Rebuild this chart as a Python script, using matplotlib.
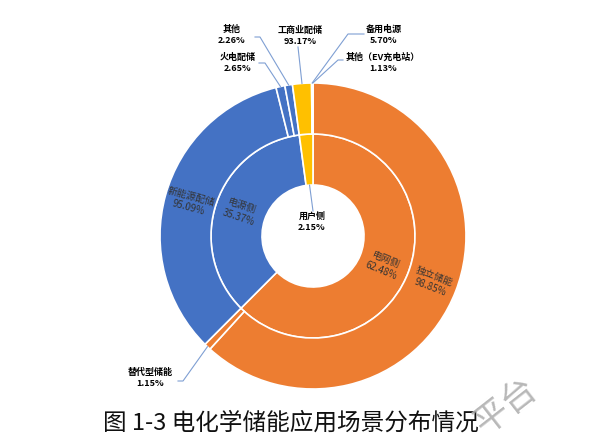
import numpy as np
import matplotlib
matplotlib.use("Agg")
import matplotlib.pyplot as plt

plt.rcParams['font.family'] = ['Noto Sans CJK SC', 'DejaVu Sans']

# inner ring: share by side (%)
sides = ["电网侧", "电源侧", "用户侧"]
side_share = [62.48, 35.37, 2.15]

# outer ring: share inside each side (%)
grid_names = ["独立储能", "替代型储能"]
grid_share = [98.85, 1.15]
source_names = ["新能源配储", "火电配储", "其他"]
source_share = [95.09, 2.65, 2.26]
user_names = ["工商业配储", "备用电源", "其他（EV充电站）"]
user_share = [93.17, 5.70, 1.13]

caption = "图 1-3 电化学储能应用场景分布情况"

colors = ["#ED7D31", "#4472C4", "#FFC000"]
line_col = "#7f9fd3"
W, H = 610, 444


def px(x, y):
    # picture pixel -> data coords (y up)
    return x, H - y


fig = plt.figure(figsize=(W / 100, H / 100), dpi=100)
ax = fig.add_axes([0, 0, 1, 1])

cx, cy = px(313, 236)
r_out, r_mid, r_in = 153, 102, 51

inner_w, _ = ax.pie(side_share, radius=r_mid, center=(cx, cy), startangle=90,
                    counterclock=False, colors=colors,
                    wedgeprops=dict(width=r_mid - r_in, edgecolor="white", linewidth=1.2))

groups = [grid_share, source_share, user_share]
outer_vals, outer_cols, outer_names = [], [], []
for tot, sub, names, c in zip(side_share, groups, [grid_names, source_names, user_names], colors):
    for v, n in zip(sub, names):
        outer_vals.append(tot * v / 100)
        outer_cols.append(c)
        outer_names.append((n, v))

outer_w, _ = ax.pie(outer_vals, radius=r_out, center=(cx, cy), startangle=90,
                    counterclock=False, colors=outer_cols,
                    wedgeprops=dict(width=r_out - r_mid, edgecolor="white", linewidth=1.2))


def mid_angle(w):
    return np.deg2rad((w.theta1 + w.theta2) / 2)


def ring_label(w, r, name, val):
    a = mid_angle(w)
    deg = np.rad2deg(a) % 360
    rot = deg if (deg <= 90 or deg >= 270) else deg - 180
    ax.text(cx + r * np.cos(a), cy + r * np.sin(a), f"{name}\n{val:.2f}%",
            ha="center", va="center", rotation=rot, rotation_mode="anchor",
            fontsize=7, color="#333333", linespacing=1.2)


# labels sitting on the rings
ring_label(inner_w[0], (r_in + r_mid) / 2, sides[0], side_share[0])
ring_label(inner_w[1], (r_in + r_mid) / 2, sides[1], side_share[1])
ring_label(outer_w[0], (r_mid + r_out) / 2, *outer_names[0])
ring_label(outer_w[2], (r_mid + r_out) / 2, *outer_names[2])

# user side label in the hole
a = mid_angle(inner_w[2])
ax.plot([cx + r_in * np.cos(a), px(313, 211)[0]], [cy + r_in * np.sin(a), px(313, 211)[1]],
        color=line_col, lw=0.8)
ax.text(*px(312, 222), f"{sides[2]}\n{side_share[2]:.2f}%", ha="center", va="center",
        fontsize=6.5, fontweight="bold", color="black", linespacing=1.25)

# outside labels: wedge index -> (text centre, leader path near the label)
outside = {
    1: ((150, 378), [(178, 381), (183, 381)]),
    3: ((238, 63), [(259, 63), (265, 63)]),
    4: ((232, 35), [(255, 37), (260, 37)]),
    5: ((300, 36), [(298, 47)]),
    6: ((384, 35), [(364, 34), (348, 34)]),
    7: ((383, 63), [(343, 60), (338, 60)]),
}
for i, (tpos, path) in outside.items():
    w = outer_w[i]
    a = mid_angle(w)
    pts = [px(*p) for p in path] + [(cx + r_out * np.cos(a), cy + r_out * np.sin(a))]
    xs, ys = zip(*pts)
    ax.plot(xs, ys, color=line_col, lw=0.8)
    name, val = outer_names[i]
    ax.text(*px(*tpos), f"{name}\n{val:.2f}%", ha="center", va="center",
            fontsize=6.5, fontweight="bold", color="black", linespacing=1.25)

ax.text(*px(291, 423), caption, ha="center", va="center", fontsize=17, color="#111111")

# faint watermark in the corner
ax.text(*px(506, 407), "平台", ha="center", va="center", rotation=38,
        fontsize=25, color="#b0b0b0", alpha=0.9)

ax.set_xlim(0, W)
ax.set_ylim(0, H)
ax.set_aspect("equal")
ax.axis("off")

fig.savefig("out.png", dpi=100, facecolor="white")
